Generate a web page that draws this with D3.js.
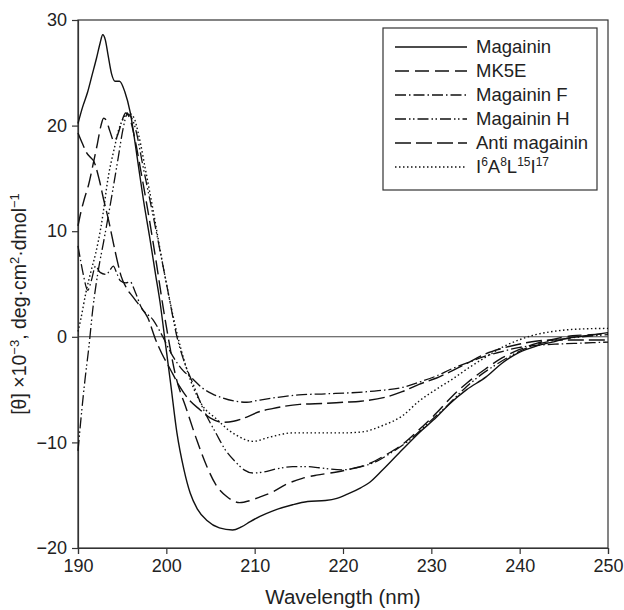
<!DOCTYPE html>
<html>
<head>
<meta charset="utf-8">
<script src="https://cdn.jsdelivr.net/npm/d3@7"></script>
<style>
  body { margin: 0; background: #fff; }
  text { font-family: "Liberation Sans", Arial, sans-serif; fill: #222; }
</style>
</head>
<body>
<script>
// CD spectra, [wavelength nm, theta x10^-3]
var magainin = [[190,20.2],[190.5,21.7],[191.1,23.2],[191.6,24.8],[192.1,26.4],[192.5,27.8],[192.8,28.6],[193.1,28.1],[193.4,26.7],[193.8,24.9],[194.2,24.2],[194.7,24.2],[195.3,23.2],[195.9,21.3],[196.7,17.0],[197.4,13.0],[198.1,9.5],[198.8,5.8],[199.3,3.2],[199.8,0],[200.5,-4.5],[201.2,-9.1],[202,-12.6],[202.7,-14.8],[203.5,-16.3],[204.6,-17.4],[206,-18.1],[207.5,-18.3],[208.5,-18.0],[209.5,-17.5],[210.6,-17.0],[212,-16.5],[214.3,-15.9],[216,-15.6],[218,-15.5],[219.3,-15.3],[220.5,-14.9],[222,-14.3],[223,-13.8],[224.5,-12.6],[226.7,-10.7],[228.6,-9.1],[230.6,-7.6],[232,-6.4],[234,-5.0],[236.2,-3.8],[238,-2.5],[239.9,-1.5],[241.8,-0.9],[243.7,-0.5],[245.6,-0.1],[247.5,0.1],[250,0.4]];

var mk5e = [[190,10.5],[190.3,11.7],[190.7,13.0],[191.2,14.4],[191.7,16.3],[192.2,18.3],[192.6,20.0],[192.9,20.7],[193.2,20.5],[193.6,19.5],[194.1,18.5],[194.6,19.4],[195,20.5],[195.4,21.2],[195.9,20.6],[196.5,18.5],[197.2,15.3],[198,11.5],[199,6.3],[199.6,3.0],[200.2,0],[201,-3.5],[202.3,-6.9],[203.5,-9.9],[204.6,-12.3],[205.6,-14.0],[206.8,-15.1],[208.3,-15.7],[209.5,-15.5],[210.5,-15.2],[212,-14.7],[213.5,-14.0],[215.4,-13.4],[217,-13.1],[219.3,-12.8],[221,-12.5],[223,-12.0],[224.8,-11.2],[226.7,-10.2],[228.6,-8.8],[230.6,-7.2],[232.4,-5.6],[234,-4.4],[236.2,-3.0],[238,-2.0],[240,-1.2],[242,-0.6],[244,-0.2],[246,0.1],[248,0.2],[250,0.3]];

var magaininF = [[190,8.6],[190.3,7.2],[190.6,5.9],[191.1,4.4],[191.5,5.3],[192,6.7],[192.5,6.1],[193.2,5.9],[193.6,6.3],[194,6.7],[194.4,6.0],[194.8,5.3],[195.4,5.1],[195.9,5.2],[196.5,4.2],[197.1,2.9],[198.5,1.6],[199.6,0],[200.5,-1.5],[201.9,-3.2],[203,-4.0],[204,-4.8],[205.2,-5.4],[206.4,-5.8],[207.8,-6.1],[209.1,-6.2],[210.5,-6.0],[212,-5.8],[215,-5.5],[218,-5.4],[221,-5.3],[224,-5.1],[226.7,-4.8],[228.6,-4.3],[230.6,-3.7],[232.4,-3.0],[234.3,-2.4],[236.2,-1.8],[238,-1.4],[240,-1.0],[242,-0.8],[244,-0.7],[247,-0.6],[250,-0.5]];

var magaininH = [[190,-10.8],[190.4,-7.2],[190.8,-4.0],[191.2,-1.2],[191.7,2.8],[192.3,6.3],[192.9,9.0],[193.4,11.3],[194,14.2],[194.6,17.2],[195.1,19.7],[195.6,21.1],[196.1,20.7],[196.6,19.4],[197.3,16.4],[198.3,12.3],[199.3,8.1],[200.3,3.8],[201.2,0],[202,-2.3],[203,-4.4],[204,-6.5],[205,-8.2],[205.6,-9.1],[206.6,-10.6],[207.9,-11.9],[208.8,-12.6],[209.8,-12.9],[211,-12.8],[212.5,-12.5],[214.3,-12.3],[216,-12.3],[217.3,-12.4],[219.9,-12.6],[221.5,-12.4],[223.8,-11.8],[225.6,-10.9],[227.5,-9.8],[229.6,-8.2],[231.7,-6.6],[233.5,-5.1],[235.3,-3.8],[237.2,-2.7],[239,-1.8],[241,-1.0],[243,-0.5],[245,-0.2],[247,0],[250,0.2]];

var antiMagainin = [[190,19.3],[190.5,18.3],[191,17.4],[191.4,17.0],[191.8,16.6],[192.4,14.9],[192.9,13.0],[193.5,10.9],[194,8.9],[194.5,7.0],[194.9,5.7],[195.5,4.6],[196.2,3.8],[197.1,2.8],[197.9,1.8],[198.8,-0.3],[199.5,-1.6],[200.4,-3.0],[201.5,-4.7],[202.5,-5.9],[203.8,-6.9],[205,-7.7],[206.4,-8.1],[207.6,-8.0],[209.1,-7.6],[210.5,-7.1],[212,-6.8],[215.1,-6.4],[218.1,-6.3],[220,-6.2],[222,-6.1],[224.9,-5.7],[226.7,-5.2],[228.6,-4.5],[230.6,-3.9],[232.4,-3.2],[234.3,-2.4],[236.2,-1.6],[238,-1.1],[239.9,-0.7],[242,-0.4],[244,-0.3],[247,-0.3],[250,-0.3]];

var i6a8 = [[190,0.5],[190.3,1.6],[190.9,4.2],[191.5,6.3],[192,7.9],[192.6,10.4],[193.5,15.5],[194.1,17.8],[194.6,19.6],[195.1,20.6],[195.7,21.2],[196.3,20.8],[196.9,19.0],[197.6,16.0],[198.5,12.0],[199.5,7.3],[200.5,3.0],[201.3,0],[202,-2.2],[203,-4.7],[204,-6.4],[205.7,-7.8],[207,-8.8],[207.9,-9.3],[209.8,-9.9],[211.7,-9.5],[214.3,-9.1],[217.3,-9.1],[220,-9.1],[222.2,-9.0],[224.5,-8.4],[226.7,-7.5],[228.6,-6.1],[230.5,-5.0],[232.4,-4.0],[234.3,-2.9],[236.2,-1.9],[238,-1.0],[239.9,-0.3],[241.8,0.2],[243.7,0.5],[246,0.7],[250,0.8]];

var xTicks = [190, 200, 210, 220, 230, 240, 250];
var yTicks = [-20, -10, 0, 10, 20, 30];

var series = [
  {name: "Magainin", values: magainin, dash: null, w: 1.4},
  {name: "MK5E", values: mk5e, dash: "14,6", w: 1.4},
  {name: "Magainin F", values: magaininF, dash: "11,3,1.5,3", w: 1.3},
  {name: "Magainin H", values: magaininH, dash: "11,3,1.5,2.5,1.5,3", w: 1.3},
  {name: "Anti magainin", values: antiMagainin, dash: "16,5", w: 1.4},
  {name: "I6A8L15I17", values: i6a8, dash: "1.5,2.5", w: 1.4}
];

var width = 624, height = 610;
var margin = {top: 20, right: 16, bottom: 62, left: 78};

var svg = d3.select("body").append("svg")
  .attr("width", width)
  .attr("height", height);

var x = d3.scaleLinear().domain([190, 250]).range([margin.left, width - margin.right]);
var y = d3.scaleLinear().domain([-20, 30]).range([height - margin.bottom, margin.top]);

// frame
svg.append("rect")
  .attr("x", x(190)).attr("y", y(30))
  .attr("width", x(250) - x(190)).attr("height", y(-20) - y(30))
  .attr("fill", "none").attr("stroke", "#333").attr("stroke-width", 1.2);

// zero line
svg.append("line")
  .attr("x1", x(190)).attr("x2", x(250))
  .attr("y1", y(0)).attr("y2", y(0))
  .attr("stroke", "#444").attr("stroke-width", 1.1);

var xAxis = svg.append("g")
  .attr("transform", `translate(0, ${y(-20)})`)
  .call(d3.axisBottom(x).tickValues(xTicks).tickSize(6).tickPadding(5).tickFormat(d3.format("d")));

var yAxis = svg.append("g")
  .attr("transform", `translate(${x(190)}, 0)`)
  .call(d3.axisLeft(y).tickValues(yTicks).tickSize(6).tickPadding(5)
    .tickFormat(d => d < 0 ? "\u2212" + Math.abs(d) : d));

[xAxis, yAxis].forEach(g => {
  g.select(".domain").attr("stroke", "#333").attr("stroke-width", 1.2);
  g.selectAll(".tick line").attr("stroke", "#333").attr("stroke-width", 1.2);
  g.selectAll(".tick text").style("font-size", "18px").attr("fill", "#222")
    .style("font-family", "'Liberation Sans', Arial, sans-serif");
});

var line = d3.line()
  .x(d => x(d[0]))
  .y(d => y(d[1]))
  .curve(d3.curveMonotoneX);

svg.append("g").selectAll("path.curve")
  .data(series)
  .enter()
  .append("path")
  .attr("class", "curve")
  .attr("d", d => line(d.values))
  .attr("fill", "none")
  .attr("stroke", "#111")
  .attr("stroke-width", d => d.w)
  .attr("stroke-dasharray", d => d.dash);

// axis titles
svg.append("text")
  .attr("x", (x(190) + x(250)) / 2)
  .attr("y", 604)
  .attr("text-anchor", "middle")
  .style("font-size", "20.5px")
  .text("Wavelength (nm)");

var yt = svg.append("text")
  .attr("transform", `translate(26, ${(y(30) + y(-20)) / 2 + 20}) rotate(-90)`)
  .attr("text-anchor", "middle")
  .style("font-size", "19.5px");
yt.append("tspan").text("[\u03b8] \u00d710");
yt.append("tspan").attr("dy", -7).style("font-size", "13px").text("\u22123");
yt.append("tspan").attr("dy", 7).text(", deg\u00b7cm");
yt.append("tspan").attr("dy", -7).style("font-size", "13px").text("2");
yt.append("tspan").attr("dy", 7).text("\u00b7dmol");
yt.append("tspan").attr("dy", -7).style("font-size", "13px").text("\u22121");

// legend
var lg = svg.append("g");
lg.append("rect")
  .attr("x", 383).attr("y", 28)
  .attr("width", 214).attr("height", 162)
  .attr("fill", "#fff").attr("stroke", "#333").attr("stroke-width", 1.2);

var rowY = d3.scalePoint().domain(series.map(d => d.name)).range([47, 167]);

lg.selectAll("line.key")
  .data(series)
  .enter()
  .append("line")
  .attr("class", "key")
  .attr("x1", 395).attr("x2", 467)
  .attr("y1", d => rowY(d.name)).attr("y2", d => rowY(d.name))
  .attr("stroke", "#111")
  .attr("stroke-width", d => d.w)
  .attr("stroke-dasharray", d => d.dash);

lg.selectAll("text.key")
  .data(series.slice(0, 5))
  .enter()
  .append("text")
  .attr("class", "key")
  .attr("x", 476)
  .attr("y", d => rowY(d.name) + 6)
  .style("font-size", "18.5px")
  .text(d => d.name);

var last = lg.append("text")
  .attr("x", 476)
  .attr("y", rowY("I6A8L15I17") + 6)
  .style("font-size", "18.5px");
[["I", "6"], ["A", "8"], ["L", "15"], ["I", "17"]].forEach((p, i) => {
  last.append("tspan").attr("dy", i == 0 ? 0 : 7).text(p[0]);
  last.append("tspan").attr("dy", -7).style("font-size", "12px").text(p[1]);
});
</script>
</body>
</html>
